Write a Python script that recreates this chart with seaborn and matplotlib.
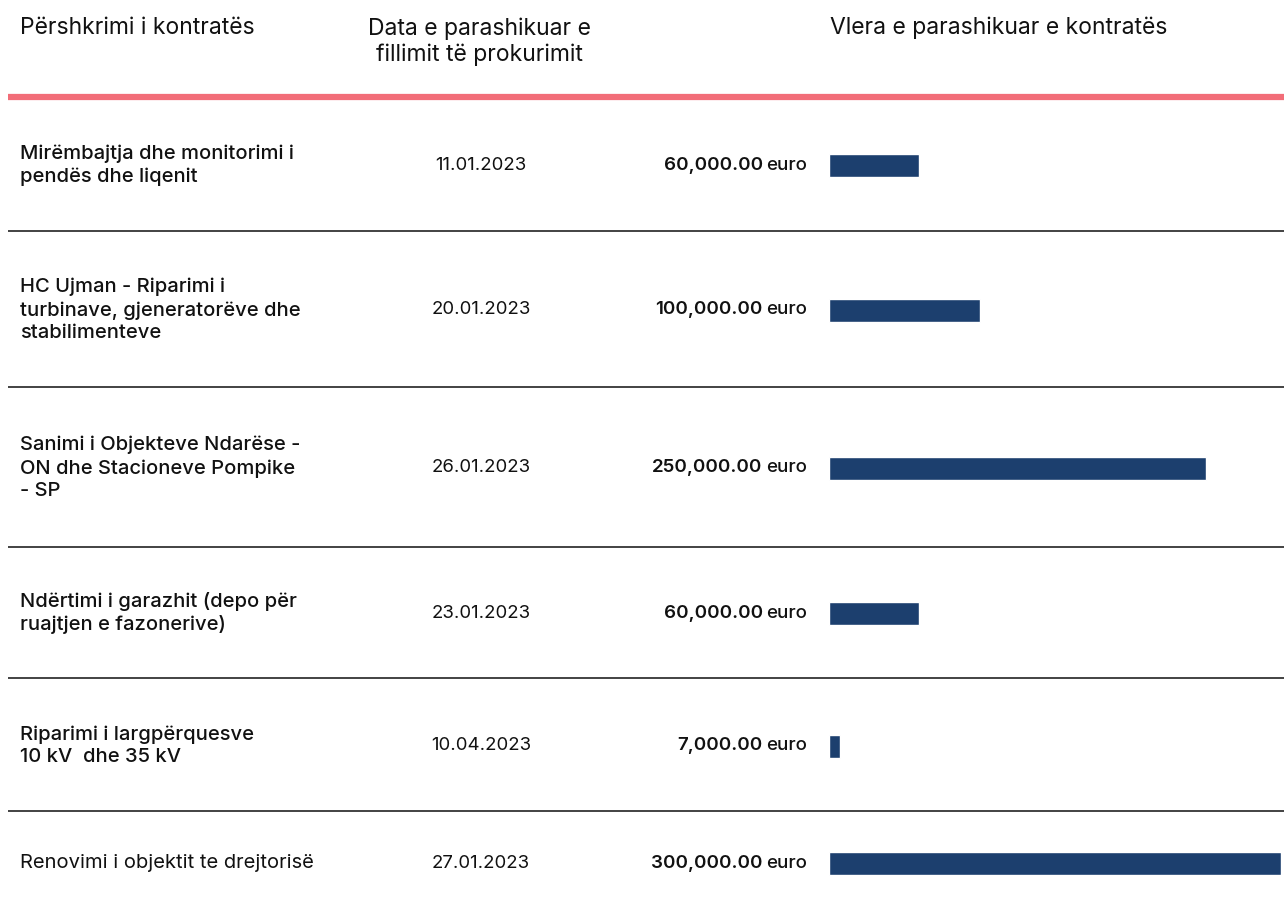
import numpy as np
import matplotlib
matplotlib.use("Agg")
import matplotlib.pyplot as plt
import seaborn as sns

# table content
descriptions = [
    "Mirëmbajtja dhe monitorimi i\npendës dhe liqenit",
    "HC Ujman - Riparimi i\nturbinave, gjeneratorëve dhe\nstabilimenteve",
    "Sanimi i Objekteve Ndarëse -\nON dhe Stacioneve Pompike\n- SP",
    "Ndërtimi i garazhit (depo për\nruajtjen e fazonerive)",
    "Riparimi i largpërquesve\n10 kV  dhe 35 kV",
    "Renovimi i objektit te drejtorisë",
]
dates = ["11.01.2023", "20.01.2023", "26.01.2023", "23.01.2023", "10.04.2023", "27.01.2023"]
values = [60000, 100000, 250000, 60000, 7000, 300000]
headers = ["Përshkrimi i kontratës", "Data e parashikuar e\nfillimit të prokurimit",
           "Vlera e parashikuar e kontratës"]

# layout in figure pixels (top-down)
W, H = 1284, 917
row_y = np.array([165.5, 310, 468, 613, 746, 863.5])
sep_y = [231, 387, 547, 678, 811]
bar_h = 23
BAR_COLOR = "#1c3f6e"
RED = "#f26d78"

sns.set_theme(style="white")
plt.rcParams["font.family"] = ["Inter", "DejaVu Sans"]

fig = plt.figure(figsize=(W / 100, H / 100), dpi=100)
ax = fig.add_axes([0, 0, 1, 1])
ax.set_xlim(0, W)
ax.set_ylim(H, 0)
ax.axis("off")

# header
ax.text(20, 28, headers[0], fontsize=16.5, va="center", ha="left", color="#111")
ax.text(479, 42, headers[1], fontsize=16.5, va="center", ha="center", color="#111",
        linespacing=1.2)
ax.text(830, 28, headers[2], fontsize=16.5, va="center", ha="left", color="#111")
ax.hlines(97, 8, W, color=RED, lw=4.5)
ax.hlines(sep_y, 8, W, color="#222", lw=1.2)

for i, (desc, date, val) in enumerate(zip(descriptions, dates, values)):
    y = row_y[i]
    weight = "normal" if i == len(values) - 1 else "medium"
    ax.text(20, y, desc, fontsize=14.5, va="center", ha="left", color="#111",
            fontweight=weight, linespacing=1.32)
    ax.text(481, y, date, fontsize=13.4, va="center", ha="center", color="#111")
    euro = ax.text(807, y, "euro", fontsize=13.5, va="center", ha="right",
                   color="#111", fontweight="medium")
    ax.annotate(f"{val:,.2f}", xy=(0, 0), xycoords=euro, xytext=(-2.5, 0),
                textcoords="offset points", fontsize=13.5, va="bottom", ha="right",
                color="#111", fontweight="semibold")

# bars
bax = fig.add_axes([829 / W, 0, 452 / W, 1])
sns.barplot(x=values, y=row_y, orient="h", native_scale=True,
            width=bar_h / np.min(np.diff(row_y)), color=BAR_COLOR,
            saturation=1, ax=bax)
bax.set_xlim(0, max(values))
bax.set_ylim(H, 0)
bax.axis("off")

fig.savefig("out.png", dpi=100)
